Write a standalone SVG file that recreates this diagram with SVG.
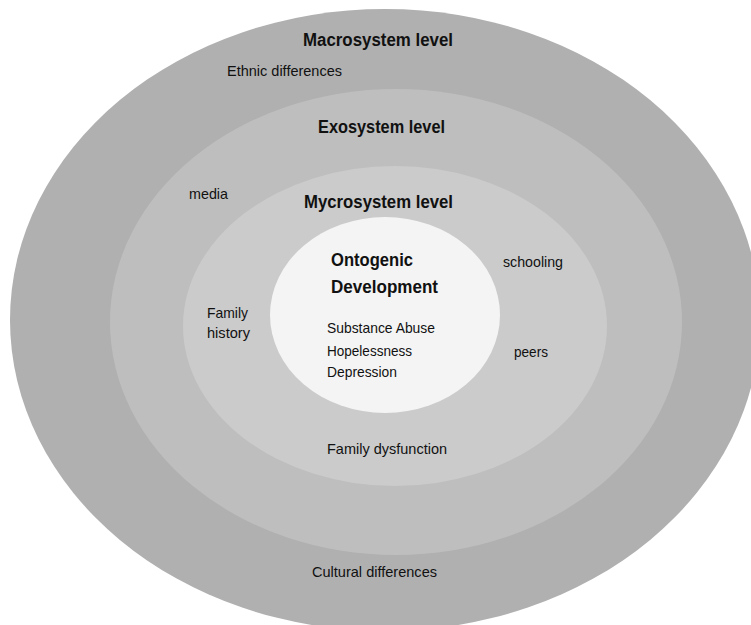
<svg xmlns="http://www.w3.org/2000/svg" width="751" height="625" viewBox="0 0 751 625">
<style>
text{font-family:"Liberation Sans",Arial,sans-serif;fill:#111111;}
.h{font-weight:bold;font-size:18px;}
.t{font-size:14.5px;}
</style>
<rect width="751" height="625" fill="#ffffff"/>
<g id="macrosystem">
<ellipse cx="385" cy="320" rx="375" ry="311" fill="#b0b0b0"/>
<text class="h" x="303" y="46" textLength="150" lengthAdjust="spacingAndGlyphs">Macrosystem level</text>
<text class="t" x="227" y="76" textLength="115" lengthAdjust="spacingAndGlyphs">Ethnic differences</text>
<text class="t" x="312" y="577" textLength="125" lengthAdjust="spacingAndGlyphs">Cultural differences</text>
</g>
<g id="exosystem">
<ellipse cx="396" cy="322" rx="286" ry="233" fill="#bebebe"/>
<text class="h" x="318" y="133" textLength="127" lengthAdjust="spacingAndGlyphs">Exosystem level</text>
<text class="t" x="189" y="199" textLength="39" lengthAdjust="spacingAndGlyphs">media</text>
</g>
<g id="mycrosystem">
<ellipse cx="395" cy="326" rx="212" ry="160" fill="#cbcbcb"/>
<text class="h" x="304" y="208" textLength="149" lengthAdjust="spacingAndGlyphs">Mycrosystem level</text>
<text class="t" x="503" y="267" textLength="60" lengthAdjust="spacingAndGlyphs">schooling</text>
<text class="t" x="207" y="318" textLength="41" lengthAdjust="spacingAndGlyphs">Family</text>
<text class="t" x="207" y="338" textLength="43" lengthAdjust="spacingAndGlyphs">history</text>
<text class="t" x="514" y="357" textLength="34" lengthAdjust="spacingAndGlyphs">peers</text>
<text class="t" x="327" y="454" textLength="120" lengthAdjust="spacingAndGlyphs">Family dysfunction</text>
</g>
<g id="ontogenic">
<ellipse cx="385" cy="315" rx="115" ry="98" fill="#f4f4f4"/>
<text class="h" x="331" y="266" textLength="82" lengthAdjust="spacingAndGlyphs">Ontogenic</text>
<text class="h" x="331" y="293" textLength="107" lengthAdjust="spacingAndGlyphs">Development</text>
<text class="t" x="327" y="333" textLength="108" lengthAdjust="spacingAndGlyphs">Substance Abuse</text>
<text class="t" x="327" y="356" textLength="85" lengthAdjust="spacingAndGlyphs">Hopelessness</text>
<text class="t" x="327" y="377" textLength="70" lengthAdjust="spacingAndGlyphs">Depression</text>
</g>
</svg>
